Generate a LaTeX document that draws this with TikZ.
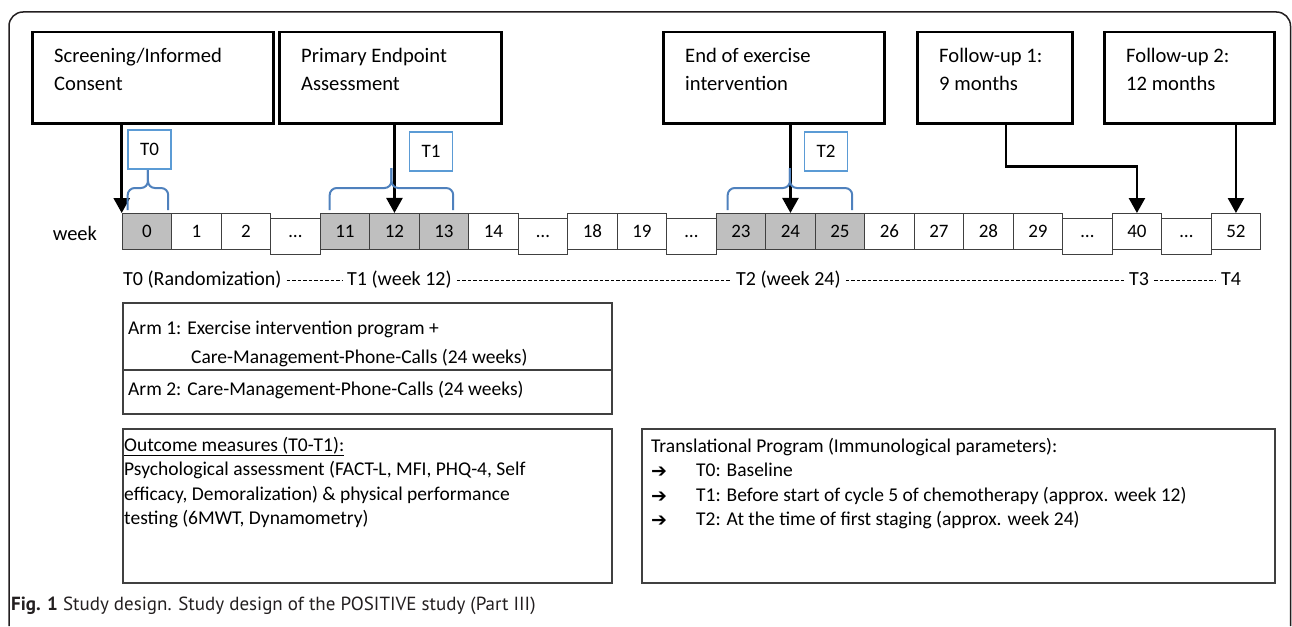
\documentclass[tikz,border=0pt]{standalone}
\usepackage{fontspec}
\setmainfont{Carlito}
\newfontfamily\capfont{PT Sans}
\newfontfamily\symfont{DejaVu Sans}
\usetikzlibrary{%
    arrows.meta,
    calc,
    matrix,
    positioning
}
\definecolor{tblue}{RGB}{79,129,189}
\definecolor{tboxblue}{RGB}{91,155,213}
\definecolor{cellgrey}{RGB}{191,191,191}
\definecolor{rimgrey}{RGB}{64,64,64}
\definecolor{capgrey}{RGB}{35,31,32}
\newcommand{\bularrow}{\makebox[45pt][l]{\symfont\fontsize{19}{16}\selectfont\raisebox{-1pt}{➔}}}
\tikzset{headarrow/.style = {-{Triangle[width=16pt,length=15pt]}, line width=2.5pt}}
\tikzset{eventbox/.style = {draw, line width=2.5pt, anchor=north west, inner sep=0pt, minimum height=91pt}}
\tikzset{eventtext/.style = {anchor=north west, align=left, inner sep=0pt, font=\fontsize{20.6}{28}\selectfont}}
\tikzset{weekcell/.style = {draw=rimgrey, line width=1pt, minimum width=49.5pt, minimum height=36pt, inner sep=0pt, font=\fontsize{19}{22}\selectfont}}
\tikzset{greycell/.style = {fill=cellgrey}}
\tikzset{tagbox/.style = {draw=tboxblue, line width=1.5pt, minimum width=43pt, minimum height=39pt, inner sep=0pt, font=\fontsize{19}{22}\selectfont}}
\tikzset{bracket/.style = {draw=tblue, line width=2pt, rounded corners=7pt}}
\tikzset{infobox/.style = {draw=rimgrey, line width=1.5pt, anchor=north west, inner sep=0pt}}
\tikzset{infotext/.style = {anchor=north west, align=left, inner sep=0pt, font=\fontsize{19.5}{24.3}\selectfont}}
\tikzset{phasetext/.style = {anchor=west, inner sep=0pt, text height=15pt, text depth=4pt, font=\fontsize{20}{24}\selectfont}}
\tikzset{phaseline/.style = {dash pattern=on 3.5pt off 2pt, line width=1pt}}

\begin{document}
\begin{tikzpicture}[x=1pt, y=-1pt]
    \useasboundingbox (0,0) rectangle (1292,626);
    \draw[capgrey, line width=1.5pt, rounded corners=14pt]
        (9,626) -- (9,12) -- (1290.5,12) -- (1290.5,626);

    \foreach \Name/\Left/\Right/\Text in {%
        screen/31/272/{Screening/Informed\\Consent},
        primary/278/500/{Primary Endpoint\\Assessment},
        endex/662/883/{End of exercise\\intervention},
        fuone/916/1071/{Follow-up 1:\\9 months},
        futwo/1103/1273/{Follow-up 2:\\12 months}%
    }
        {
            \node[eventbox, minimum width={\Right pt-\Left pt}] (\Name) at (\Left,31) {};
            \node[eventtext] (\Name-txt) at ([shift={(23pt,-17pt)}]\Name.north west) {\Text};
        }

    \matrix (wk) [matrix of nodes, nodes={weekcell}, column sep=-1pt,
                  inner sep=0pt, anchor=north west] at (121.5,212.5) {%
        |[greycell]| 0 & 1 & 2 & \dots & |[greycell]| 11 & |[greycell]| 12 & |[greycell]| 13
        & 14 & \dots & 18 & 19 & \dots & |[greycell]| 23 & |[greycell]| 24 & |[greycell]| 25
        & 26 & 27 & 28 & 29 & \dots & 40 & \dots & 52 \\
    };
    \node (weeklbl) [left=21pt of wk, font=\fontsize{20.5}{24}\selectfont] {week};

    \foreach \Source/\Target in {%
        screen/wk-1-1.north west,
        primary/wk-1-6.north,
        endex/wk-1-14.north,
        futwo/wk-1-23.north%
    }
        \draw[headarrow] (\Source.south -| \Target) -- (\Target);
    \draw[headarrow] ([xshift=11pt]fuone.south) -- ++(0,42) -| (wk-1-21.north);

    \foreach \First/\Last/\Inl/\Inr/\Tag/\TagX/\TagY in {%
        1/1/6/4/T0/149.5/149.5,
        5/7/10/16/T1/431/151.5,
        13/15/12/13/T2/826/151.5%
    }
        {
            \coordinate (bl) at ([shift={(\Inl pt,3pt)}]wk-1-\First.north west);
            \coordinate (br) at ([shift={(-\Inr pt,3pt)}]wk-1-\Last.north east);
            \coordinate (bm) at ($(bl)!0.5!(br)$);
            \draw[bracket] (bl) |- ([yshift=22pt]bm) -- ([yshift=42pt]bm);
            \draw[bracket] (br) |- ([yshift=22pt]bm) -- ([yshift=42pt]bm);
            \node[tagbox] (tag\Tag) at (\TagX,\TagY) {\Tag};
        }

    \node[phasetext] (ph0) at (123,280) {T0 (Randomization)};
    \node[phasetext] (ph1) at (347,280) {T1 (week 12)};
    \node[phasetext] (ph2) at (736,280) {T2 (week 24)};
    \node[phasetext] (ph3) at (1129,280) {T3};
    \node[phasetext] (ph4) at (1221,280) {T4};
    \foreach \Source/\Target in {ph0/ph1, ph1/ph2, ph2/ph3, ph3/ph4}
        \draw[phaseline] ([xshift=5pt]\Source.east) -- ([xshift=-5pt]\Target.west);

    \node[infobox, minimum width=489pt, minimum height=67pt] (armone) at (122,302) {};
    \node[infobox, minimum width=489pt, minimum height=44pt] (armtwo) at (122,369) {};
    \node[infotext] (armone-txt) at ([shift={(6pt,-19pt)}]armone.north west)
        {Arm 1: Exercise intervention program +\\[4.5pt]
         \hspace*{63pt}Care-Management-Phone-Calls (24 weeks)};
    \node[infotext] (armtwo-txt) at ([shift={(6pt,-12pt)}]armtwo.north west)
        {Arm 2: Care-Management-Phone-Calls (24 weeks)};

    \node[infobox, minimum width=489pt, minimum height=154pt] (outcome) at (122,428) {};
    \node[infotext] (outcome-txt) at ([shift={(2pt,-9pt)}]outcome.north west)
        {\underline{Outcome measures (T0-T1):}\\
         Psychological assessment (FACT-L, MFI, PHQ-4, Self\\
         efficacy, Demoralization) \& physical performance\\
         testing (6MWT, Dynamometry)};

    \node[infobox, minimum width=633pt, minimum height=154pt] (transl) at (641,428) {};
    \node[infotext] (transl-txt) at ([shift={(10pt,-10pt)}]transl.north west)
        {Translational Program (Immunological parameters):\\
         \bularrow T0: Baseline\\
         \bularrow T1: Before start of cycle 5 of chemotherapy (approx. week 12)\\
         \bularrow T2: At the time of first staging (approx. week 24)};

    \node[anchor=west, inner sep=0pt, text=capgrey, font=\capfont\fontsize{19}{22}\selectfont]
        (caption) at (11,606) {\textbf{Fig. 1} Study design. Study design of the POSITIVE study (Part III)};
\end{tikzpicture}
\end{document}
